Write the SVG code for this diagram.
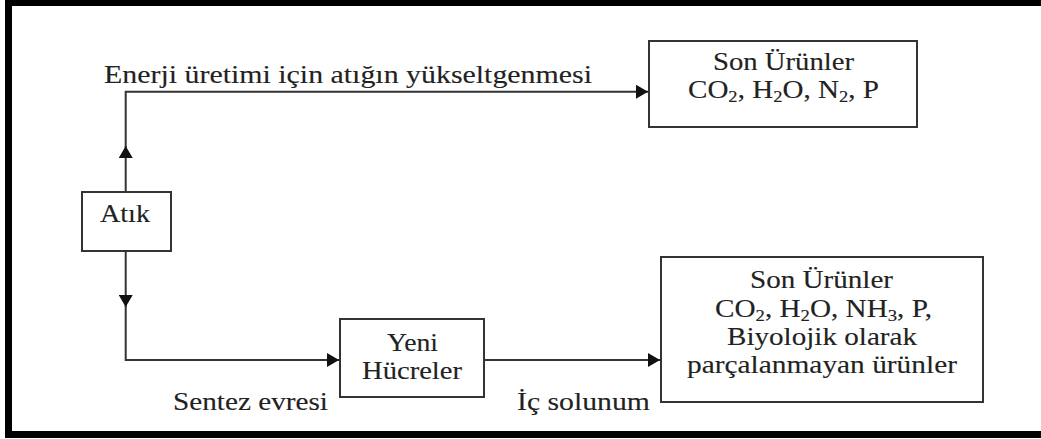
<svg xmlns="http://www.w3.org/2000/svg" width="1041" height="439" viewBox="0 0 1041 439">
  <style>
    .frame { fill: none; stroke: #000; stroke-width: 7; }
    .box { fill: #fff; stroke: #333; stroke-width: 2; }
    .wire { fill: none; stroke: #333; stroke-width: 2; }
    text { font-family: 'Liberation Serif', serif; font-size: 25px; fill: #222; stroke: #222; stroke-width: 0.12; }
    .sub { font-size: 16px; }
  </style>
  <defs>
    <marker id="head" markerUnits="userSpaceOnUse" markerWidth="13" markerHeight="14" refX="12" refY="7" orient="auto">
      <path d="M0,0 L12,7 L0,14 Z" fill="#111"/>
    </marker>
  </defs>

  <rect width="1041" height="439" fill="#fff"/>
  <rect class="frame" x="8.5" y="2.5" width="1100" height="432"/>

  <!-- connectors and their labels -->
  <g id="connectors">
    <path class="wire" d="M125.7,192 V146" marker-end="url(#head)"/>
    <path class="wire" d="M125.7,147 V91.7 H648" marker-end="url(#head)"/>
    <path class="wire" d="M125.7,251 V307" marker-end="url(#head)"/>
    <path class="wire" d="M125.7,306 V360 H339" marker-end="url(#head)"/>
    <path class="wire" d="M484,360 H660" marker-end="url(#head)"/>
    <text x="104" y="83" textLength="488" lengthAdjust="spacingAndGlyphs">Enerji üretimi için atığın yükseltgenmesi</text>
    <text x="173" y="410" textLength="155" lengthAdjust="spacingAndGlyphs">Sentez evresi</text>
    <text x="517" y="410" textLength="133" lengthAdjust="spacingAndGlyphs">İç solunum</text>
  </g>

  <g id="atik">
    <rect class="box" x="82" y="192" width="89" height="59"/>
    <text x="100" y="222" textLength="50" lengthAdjust="spacingAndGlyphs">Atık</text>
  </g>

  <g id="son-urunler-1">
    <rect class="box" x="649" y="41" width="268" height="86"/>
    <text x="713" y="70" textLength="141" lengthAdjust="spacingAndGlyphs">Son Ürünler</text>
    <text x="688" y="98" textLength="191" lengthAdjust="spacingAndGlyphs">CO<tspan class="sub" dy="4">2</tspan><tspan dy="-4">, H</tspan><tspan class="sub" dy="4">2</tspan><tspan dy="-4">O, N</tspan><tspan class="sub" dy="4">2</tspan><tspan dy="-4">, P</tspan></text>
  </g>

  <g id="yeni-hucreler">
    <rect class="box" x="340" y="319" width="144" height="78"/>
    <text x="387" y="351" textLength="51" lengthAdjust="spacingAndGlyphs">Yeni</text>
    <text x="362" y="379" textLength="100" lengthAdjust="spacingAndGlyphs">Hücreler</text>
  </g>

  <g id="son-urunler-2">
    <rect class="box" x="661" y="257" width="322" height="145"/>
    <text x="750" y="288" textLength="143" lengthAdjust="spacingAndGlyphs">Son Ürünler</text>
    <text x="715" y="317" textLength="217" lengthAdjust="spacingAndGlyphs">CO<tspan class="sub" dy="4">2</tspan><tspan dy="-4">, H</tspan><tspan class="sub" dy="4">2</tspan><tspan dy="-4">O, NH</tspan><tspan class="sub" dy="4">3</tspan><tspan dy="-4">, P,</tspan></text>
    <text x="727" y="345" textLength="190" lengthAdjust="spacingAndGlyphs">Biyolojik olarak</text>
    <text x="687" y="373" textLength="270" lengthAdjust="spacingAndGlyphs">parçalanmayan ürünler</text>
  </g>
</svg>
